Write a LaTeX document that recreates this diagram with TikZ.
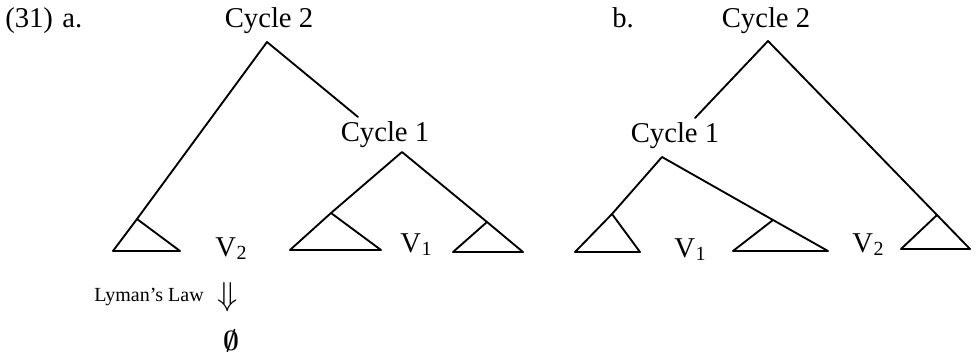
\documentclass[tikz,border=0pt]{standalone}
\usepackage{fontspec}
\setmainfont{Liberation Serif}
\usepackage{amsmath}
\tikzset{
  every picture/.style={line join=round, line cap=round},
  branch/.style={line width=1.4pt},
  lab/.style={font=\fontsize{21.5}{25}\selectfont, inner sep=0pt, anchor=base},
  lawlab/.style={font=\fontsize{15}{18}\selectfont, inner sep=0pt, anchor=base east},
  sym/.style={font=\fontsize{24}{28}\selectfont, inner sep=0pt},
}
\newcommand{\Vsub}[1]{V\kern0.5pt\raisebox{-0.3ex}{\fontsize{15}{15}\selectfont #1}}

\begin{document}
\begin{tikzpicture}[x=0.75pt,y=-0.75pt]
\useasboundingbox (0,0) rectangle (978,356);
\node[lab,anchor=base west] (exa) at (5,28) {(31)\hspace{7pt}a.};
\node[lab,anchor=base west] (exb) at (612,28) {b.};
% (a) Cycle 2 over Cycle 1
\node[lab] (c2a) at (269,28) {Cycle 2};
\node[lab] (c1a) at (385,142) {Cycle 1};
\coordinate (t2a) at (267,42);
\coordinate (e2a) at (358,117);
\coordinate (t1a) at (402,152);
\coordinate (xa) at (137,219);
\coordinate (ya) at (331,213);
\coordinate (za) at (487,222);
\draw[branch] (t2a) -- (xa);
\draw[branch] (t2a) -- (e2a);
\draw[branch] (ya) -- (t1a) -- (za);
\draw[branch] (xa) -- ++(-24,32) -- ++(67,0) -- cycle;
\draw[branch] (ya) -- ++(-41,37) -- ++(91,0) -- cycle;
\draw[branch] (za) -- ++(36,30) -- ++(-70,0) -- cycle;
\node[lab] (v2a) at (231,256) {\Vsub{2}};
\node[lab] (v1a) at (416,252) {\Vsub{1}};
% Lyman's Law
\node[lawlab] (law) at (204,301) {Lyman's Law};
\node[sym] (arr) at (228,297) {$\Downarrow$};
\node[sym,font=\fontsize{22}{26}\selectfont] (nul) at (231,341) {$\boldsymbol{\emptyset}$};
% (b) Cycle 1 inside the left part
\node[lab] (c2b) at (766,28) {Cycle 2};
\node[lab] (c1b) at (675,143) {Cycle 1};
\coordinate (t2b) at (768,41);
\coordinate (e2b) at (695,118);
\coordinate (t1b) at (662,157);
\coordinate (xb) at (612,214);
\coordinate (yb) at (773,220);
\coordinate (zb) at (937,215);
\draw[branch] (e2b) -- (t2b) -- (zb);
\draw[branch] (xb) -- (t1b) -- (yb);
\draw[branch] (xb) -- ++(-37,38) -- ++(65,0) -- cycle;
\draw[branch] (yb) -- ++(55,31) -- ++(-95,0) -- cycle;
\draw[branch] (zb) -- ++(33,34) -- ++(-69,0) -- cycle;
\node[lab] (v1b) at (690,257) {\Vsub{1}};
\node[lab] (v2b) at (868,252) {\Vsub{2}};
\end{tikzpicture}
\end{document}
